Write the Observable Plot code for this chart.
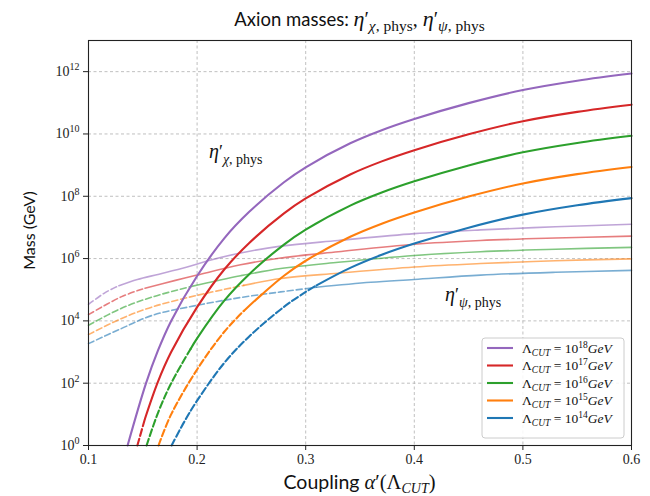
<!DOCTYPE html>
<html><head><meta charset="utf-8">
<script src="https://cdn.jsdelivr.net/npm/d3@7"></script>
<script src="https://cdn.jsdelivr.net/npm/@observablehq/plot@0.6"></script>
<style>body{margin:0;background:#fff} #chart{width:650px;height:496px}</style>
</head><body><div id="chart"></div>
<script>
// ---- data (log10 of mass in GeV) ----
const lambdaExp = [18, 17, 16, 15, 14];
const colors = ["#9467bd", "#d62728", "#2ca02c", "#ff7f0e", "#1f77b4"];
const dashEnd = [0.128, 0.152, 0.194, 0.243, 0.31]; // coupling below which curves are dashed

// eta'_chi,phys (steep curves)
const chiAlpha18 = [0.136,0.153,0.164,0.176,0.2,0.225,0.248,0.28,0.3,0.341,0.37,0.4,0.45,0.5,0.55,0.6];
const chiLog18   = [0,2.0,3.05,3.99,5.44,6.65,7.5,8.45,8.93,9.7,10.12,10.48,10.99,11.41,11.71,11.94];
const chiAlpha17 = [0.145,0.152,0.164,0.176,0.2,0.225,0.248,0.28,0.3,0.341,0.37,0.4,0.45,0.5,0.55,0.6];
const chiLog17   = [0,0.86,2.05,2.99,4.44,5.65,6.5,7.45,7.93,8.7,9.12,9.48,9.99,10.41,10.71,10.94];
const chiAlpha16 = [0.1535,0.164,0.176,0.194,0.2,0.225,0.248,0.28,0.3,0.341,0.37,0.4,0.45,0.5,0.55,0.6];
const chiLog16   = [0,1.05,1.99,3.1,3.44,4.65,5.5,6.45,6.93,7.7,8.12,8.48,8.99,9.41,9.71,9.94];
const chiAlpha15 = [0.1645,0.176,0.2,0.225,0.243,0.26,0.28,0.3,0.341,0.37,0.4,0.45,0.5,0.55,0.6];
const chiLog15   = [0,0.99,2.44,3.65,4.32,4.86,5.45,5.93,6.7,7.12,7.48,7.99,8.41,8.71,8.94];
const chiAlpha14 = [0.1765,0.188,0.2,0.225,0.248,0.28,0.3,0.31,0.341,0.37,0.4,0.45,0.5,0.55,0.6];
const chiLog14   = [0,0.75,1.44,2.65,3.5,4.45,4.93,5.14,5.7,6.12,6.48,6.99,7.41,7.71,7.94];

// eta'_psi,phys (flat curves)
const psiAlpha18 = [0.1,0.115,0.128,0.145,0.165,0.19,0.21,0.24,0.277,0.33,0.4,0.461,0.53,0.6];
const psiLog18   = [4.53,4.9,5.13,5.33,5.5,5.72,5.93,6.18,6.4,6.58,6.8,6.92,7.02,7.1];
const psiAlpha17 = [0.1,0.13,0.152,0.18,0.2,0.24,0.277,0.33,0.4,0.461,0.53,0.6];
const psiLog17   = [4.2,4.77,5.05,5.3,5.47,5.8,6.02,6.22,6.46,6.58,6.66,6.72];
const psiAlpha16 = [0.1,0.13,0.159,0.194,0.24,0.277,0.33,0.4,0.461,0.53,0.6];
const psiLog16   = [3.86,4.4,4.77,5.1,5.45,5.68,5.88,6.1,6.22,6.3,6.36];
const psiAlpha15 = [0.1,0.13,0.159,0.2,0.243,0.277,0.33,0.4,0.461,0.53,0.6];
const psiLog15   = [3.56,4.07,4.45,4.82,5.14,5.36,5.53,5.73,5.84,5.93,5.99];
const psiAlpha14 = [0.1,0.13,0.159,0.2,0.24,0.277,0.31,0.36,0.4,0.461,0.53,0.6];
const psiLog14   = [3.27,3.75,4.18,4.5,4.75,4.93,5.08,5.24,5.33,5.47,5.56,5.62];

const xTicks = [0.1, 0.2, 0.3, 0.4, 0.5, 0.6];
const yTickExp = [0, 2, 4, 6, 8, 10, 12];
const annotAlpha = [0.2115, 0.4288];
const annotLog = [9.2, 4.61];

// ---- build ----
const chiA = [chiAlpha18, chiAlpha17, chiAlpha16, chiAlpha15, chiAlpha14];
const chiL = [chiLog18, chiLog17, chiLog16, chiLog15, chiLog14];
const psiA = [psiAlpha18, psiAlpha17, psiAlpha16, psiAlpha15, psiAlpha14];
const psiL = [psiLog18, psiLog17, psiLog16, psiLog15, psiLog14];
const toRows = (A, L) => A.map((a, i) => ({a, m: Math.pow(10, L[i])}));

const serif = "'Liberation Serif','DejaVu Serif',serif";
const sans = "Lato,'DejaVu Sans',sans-serif";
const yTicks = yTickExp.map(e => Math.pow(10, e));

const marks = [
  Plot.gridX(xTicks, {stroke: "#b0b0b0", strokeOpacity: 1, strokeWidth: 0.8, strokeDasharray: "3,2.5"}),
  Plot.gridY(yTicks, {stroke: "#b0b0b0", strokeOpacity: 1, strokeWidth: 0.8, strokeDasharray: "3,2.5"})
];
const dash = "7,3";
for (let i = 0; i < 5; i++) {
  const rows = toRows(psiA[i], psiL[i]);
  const thr = dashEnd[i];
  const opt = {x: "a", y: "m", stroke: colors[i], strokeOpacity: 0.6, strokeWidth: 1.6, curve: "catmull-rom"};
  marks.push(Plot.line(rows.filter(d => d.a <= thr), {...opt, strokeDasharray: "6,3"}));
  marks.push(Plot.line(rows.filter(d => d.a >= thr), opt));
}
for (let i = 0; i < 5; i++) {
  const rows = toRows(chiA[i], chiL[i]);
  const thr = dashEnd[i];
  const opt = {x: "a", y: "m", stroke: colors[i], strokeWidth: 2.1, curve: "catmull-rom"};
  const dRows = rows.filter(d => d.a <= thr);
  if (dRows.length > 1) marks.push(Plot.line(dRows, {...opt, strokeDasharray: dash}));
  marks.push(Plot.line(rows.filter(d => d.a >= thr), opt));
}
marks.push(Plot.frame({stroke: "#222", strokeWidth: 1.1}));
marks.push(Plot.axisX(xTicks, {tickSize: 5, tickPadding: 4, fontSize: 14, fontFamily: serif, label: null, tickFormat: d3.format(".1f"), stroke: "#222"}));
marks.push(Plot.axisY(yTicks, {tickSize: 5, tickPadding: 4, fontSize: 14, fontFamily: serif, label: null, tickFormat: d => "10^" + Math.round(Math.log10(d)), stroke: "#222"}));

const plot = Plot.plot({
  width: 650, height: 496,
  marginLeft: 88, marginRight: 19, marginTop: 40, marginBottom: 51,
  style: {fontFamily: serif, fontSize: "14px", color: "#222", background: "#fff"},
  x: {domain: [0.1, 0.6]},
  y: {type: "log", domain: [1, 1e13]},
  marks
});
document.getElementById("chart").appendChild(plot);

// ---- rich text helpers ----
const svg = d3.select(plot);
function rich(parent, x, y, parts, base) {
  const t = parent.append("text").attr("x", x).attr("y", y)
    .attr("fill", "#111").attr("font-family", serif).attr("font-size", base)
    .attr("text-anchor", "start");
  let shift = 0;
  for (const p of parts) {
    const target = p.sub ? p.sub : p.sup ? -p.sup : 0;
    const s = t.append("tspan").text(p.t).attr("dy", target - shift);
    shift = target;
    if (p.size) s.attr("font-size", p.size);
    if (p.it) s.attr("font-style", "italic");
    if (p.fam) s.attr("font-family", p.fam);
  }
  return t;
}
function center(t, cx) {
  const w = t.node().getComputedTextLength();
  t.attr("x", cx - w / 2);
}

svg.selectAll('g[aria-label="y-axis tick label"] text').each(function() {
  const s = d3.select(this);
  const exp = s.text().split("^")[1];
  s.text("");
  s.append("tspan").text("10");
  s.append("tspan").text(exp).attr("dy", -6).attr("font-size", 10);
});

const xs = plot.scale("x"), ys = plot.scale("y");
const cx = (xs.apply(0.1) + xs.apply(0.6)) / 2;

const title = rich(svg, 0, 26, [
  {t: "Axion masses: ", fam: sans, size: 18.5},
  {t: "η", it: true, size: 22}, {t: "′", size: 20},
  {t: "χ", it: true, sub: 5, size: 15.5}, {t: ", phys", sub: 5, size: 15.5},
  {t: ", ", size: 20},
  {t: "η", it: true, size: 22}, {t: "′", size: 20},
  {t: "ψ", it: true, sub: 5, size: 15.5}, {t: ", phys", sub: 5, size: 15.5}
], 19);
center(title, cx);

const xl = rich(svg, 0, 489, [
  {t: "Coupling ", fam: sans, size: 19.5},
  {t: "α", it: true, size: 20.5}, {t: "′(Λ", size: 20.5},
  {t: "CUT", it: true, sub: 4, size: 14}, {t: ")", size: 20.5}
], 19);
center(xl, cx);

const cy = (ys.apply(1) + ys.apply(1e13)) / 2;
svg.append("text").text("Mass (GeV)")
  .attr("transform", `translate(35,${cy - 12}) rotate(-90)`)
  .attr("text-anchor", "middle").attr("font-family", sans).attr("font-size", 16).attr("fill", "#111");

rich(svg, xs.apply(annotAlpha[0]), ys.apply(Math.pow(10, annotLog[0])), [
  {t: "η", it: true, size: 20}, {t: "′", size: 18},
  {t: "χ", it: true, sub: 6, size: 14}, {t: ", phys", sub: 6, size: 14}
], 20);
rich(svg, xs.apply(annotAlpha[1]), ys.apply(Math.pow(10, annotLog[1])), [
  {t: "η", it: true, size: 20}, {t: "′", size: 18},
  {t: "ψ", it: true, sub: 6, size: 14}, {t: ", phys", sub: 6, size: 14}
], 20);

const lg = svg.append("g");
lg.append("rect").attr("x", 482).attr("y", 338).attr("width", 142).attr("height", 100)
  .attr("rx", 3).attr("fill", "#fff").attr("fill-opacity", 0.85).attr("stroke", "#ccc");
lambdaExp.forEach((e, i) => {
  const yy = 348 + i * 17.5;
  lg.append("line").attr("x1", 487).attr("x2", 513).attr("y1", yy).attr("y2", yy)
    .attr("stroke", colors[i]).attr("stroke-width", 2.1);
  rich(lg, 522, yy + 4.5, [
    {t: "Λ", size: 13.5}, {t: "CUT", it: true, sub: 3, size: 9.5},
    {t: " = 10", size: 13.5}, {t: String(e), sup: 5, size: 9.5},
    {t: "GeV", it: true, size: 13.5}
  ], 13.5);
});
</script>
</body></html>
